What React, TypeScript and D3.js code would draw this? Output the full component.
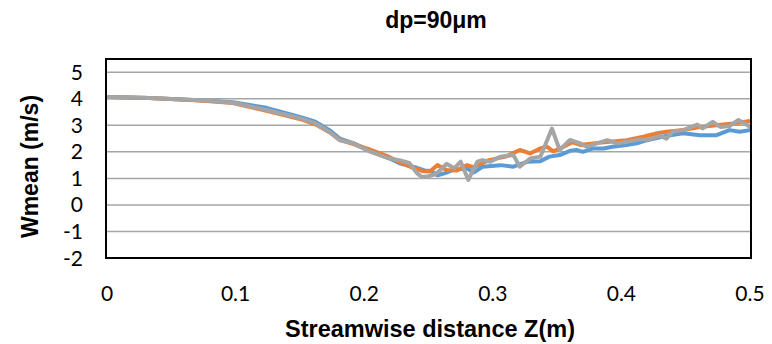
import React from "react";
import * as d3 from "d3";

const title = "dp=90μm";
const xTitle = "Streamwise distance Z(m)";
const yTitle = "Wmean (m/s)";
const xTicks = [0, 0.1, 0.2, 0.3, 0.4, 0.5];
const xTickLabels = ["0", "0.1", "0.2", "0.3", "0.4", "0.5"];
const yTicks = [-2, -1, 0, 1, 2, 3, 4, 5];

const blueZ = [0, 0.033, 0.072, 0.098, 0.124, 0.15, 0.162, 0.173, 0.181, 0.191, 0.205, 0.218, 0.228, 0.241, 0.247, 0.252, 0.257, 0.263, 0.269, 0.28, 0.285, 0.292, 0.306, 0.316, 0.327, 0.337, 0.344, 0.352, 0.36, 0.365, 0.37, 0.378, 0.386, 0.393, 0.404, 0.412, 0.42, 0.43, 0.438, 0.448, 0.461, 0.474, 0.484, 0.492, 0.5];
const blueW = [4.07, 4.03, 3.95, 3.87, 3.66, 3.32, 3.14, 2.82, 2.5, 2.34, 2.03, 1.79, 1.56, 1.4, 1.3, 1.28, 1.12, 1.2, 1.32, 1.38, 1.22, 1.44, 1.5, 1.44, 1.63, 1.65, 1.82, 1.88, 2.04, 2.07, 2.0, 2.13, 2.13, 2.19, 2.26, 2.32, 2.44, 2.55, 2.63, 2.7, 2.63, 2.63, 2.82, 2.76, 2.82];

const orangeZ = [0, 0.033, 0.072, 0.098, 0.124, 0.15, 0.162, 0.173, 0.181, 0.191, 0.205, 0.218, 0.228, 0.238, 0.245, 0.251, 0.257, 0.264, 0.272, 0.28, 0.285, 0.297, 0.31, 0.321, 0.329, 0.337, 0.342, 0.347, 0.355, 0.362, 0.368, 0.378, 0.391, 0.404, 0.417, 0.428, 0.435, 0.448, 0.461, 0.474, 0.487, 0.5];
const orangeW = [4.07, 4.03, 3.94, 3.84, 3.55, 3.24, 3.04, 2.74, 2.45, 2.3, 2.08, 1.84, 1.6, 1.4, 1.28, 1.26, 1.5, 1.32, 1.3, 1.5, 1.42, 1.69, 1.82, 2.07, 1.94, 2.13, 2.2, 2.02, 2.19, 2.36, 2.26, 2.32, 2.38, 2.44, 2.57, 2.7, 2.76, 2.82, 2.94, 3.0, 3.07, 3.16];

const grayZ = [0, 0.033, 0.072, 0.098, 0.124, 0.15, 0.162, 0.173, 0.181, 0.191, 0.205, 0.218, 0.228, 0.235, 0.241, 0.245, 0.25, 0.255, 0.259, 0.264, 0.27, 0.275, 0.281, 0.288, 0.292, 0.298, 0.306, 0.316, 0.321, 0.329, 0.337, 0.346, 0.352, 0.36, 0.368, 0.373, 0.381, 0.389, 0.397, 0.404, 0.414, 0.422, 0.43, 0.435, 0.44, 0.448, 0.459, 0.463, 0.471, 0.477, 0.484, 0.491, 0.496, 0.5];
const grayW = [4.07, 4.03, 3.95, 3.85, 3.58, 3.27, 3.08, 2.75, 2.44, 2.33, 2.0, 1.77, 1.68, 1.58, 1.2, 1.05, 1.08, 1.15, 1.3, 1.55, 1.38, 1.63, 0.94, 1.63, 1.69, 1.63, 1.82, 1.88, 1.44, 1.75, 1.82, 2.88, 2.07, 2.45, 2.32, 2.19, 2.32, 2.44, 2.32, 2.38, 2.47, 2.47, 2.6, 2.5, 2.76, 2.82, 3.03, 2.88, 3.13, 2.94, 2.97, 3.2, 3.07, 2.94];

const W = 772;
const H = 344;
const plot = { left: 107, right: 750, top: 59, bottom: 258 };

export default function App() {
  const x = d3.scaleLinear().domain([0, 0.5]).range([plot.left, plot.right]);
  const y = d3.scaleLinear().domain([-2, 5.5]).range([plot.bottom, plot.top]);
  const line = d3
    .line<[number, number]>()
    .x((d) => x(d[0]))
    .y((d) => y(d[1]));

  const series = [
    { z: blueZ, w: blueW, color: "#5b9bd5" },
    { z: orangeZ, w: orangeW, color: "#ed7d31" },
    { z: grayZ, w: grayW, color: "#a5a5a5" },
  ];

  const tickFont = "Lato, 'Open Sans', sans-serif";
  const boldFont = "'Liberation Sans', Arial, sans-serif";

  return (
    <svg
      width={W}
      height={H}
      style={{ position: "absolute", left: 0, top: 0, background: "#fff" }}
    >
      <rect x={0} y={0} width={W} height={H} fill="#fff" />
      {yTicks.map((t) => (
        <line
          key={"g" + t}
          x1={plot.left}
          x2={plot.right}
          y1={y(t)}
          y2={y(t)}
          stroke="#a6a6a6"
          strokeWidth={1.5}
        />
      ))}
      {series.map((s, i) => (
        <path
          key={i}
          d={line(s.z.map((z, j) => [z, s.w[j]] as [number, number])) || ""}
          fill="none"
          stroke={s.color}
          strokeWidth={4}
          strokeLinejoin="round"
          strokeLinecap="round"
        />
      ))}
      <rect
        x={plot.left - 1}
        y={plot.top}
        width={plot.right - plot.left + 2}
        height={plot.bottom - plot.top}
        fill="none"
        stroke="#000"
        strokeWidth={2}
      />
      {yTicks.map((t) => (
        <text
          key={"y" + t}
          x={83}
          y={y(t) + 7.5}
          textAnchor="end"
          fontFamily={tickFont}
          fontSize={21}
          fill="#000"
        >
          {t}
        </text>
      ))}
      {xTicks.map((t, i) => (
        <text
          key={"x" + t}
          x={x(t)}
          y={301}
          textAnchor="middle"
          fontFamily={tickFont}
          fontSize={21}
          fill="#000"
        >
          {xTickLabels[i]}
        </text>
      ))}
      <text
        x={436}
        y={28}
        textAnchor="middle"
        fontFamily={boldFont}
        fontWeight="bold"
        fontSize={23}
        fill="#000"
      >
        {title}
      </text>
      <text
        x={430}
        y={337}
        textAnchor="middle"
        fontFamily={boldFont}
        fontWeight="bold"
        fontSize={23.5}
        fill="#000"
      >
        {xTitle}
      </text>
      <text
        transform={`translate(38,${(plot.top + plot.bottom) / 2 + 8}) rotate(-90)`}
        textAnchor="middle"
        fontFamily={boldFont}
        fontWeight="bold"
        fontSize={23}
        fill="#000"
      >
        {yTitle}
      </text>
    </svg>
  );
}
